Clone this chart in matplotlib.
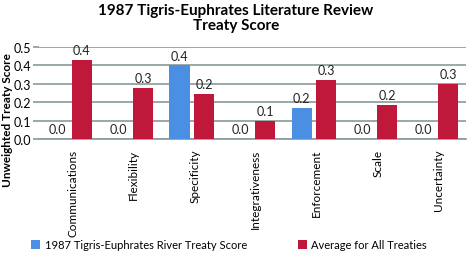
import matplotlib.pyplot as plt
import numpy as np

plt.rcParams['font.family'] = ['Lato', 'DejaVu Sans']

# data
categories = ["Communications", "Flexibility", "Specificity", "Integrativeness",
              "Enforcement", "Scale", "Uncertainty"]
river_scores = [0.0, 0.0, 0.40, 0.0, 0.17, 0.0, 0.0]
avg_scores = [0.43, 0.277, 0.245, 0.098, 0.32, 0.185, 0.30]
series_names = ["1987 Tigris-Euphrates River Treaty Score", "Average for All Treaties"]
y_ticks = [0.0, 0.1, 0.2, 0.3, 0.4, 0.5]

blue = "#4a8fe3"
red = "#c0183b"
grid_col = "#8a9a9a"

fig = plt.figure(figsize=(4.72, 2.55), dpi=100)
ax = fig.add_axes([0.083, 0.451, 0.905, 0.361])

x = np.arange(len(categories))
w = 0.33
off = 0.2
b1 = ax.bar(x - off, river_scores, width=w, color=blue, zorder=3, label=series_names[0])
b2 = ax.bar(x + off, avg_scores, width=w, color=red, zorder=3, label=series_names[1])

for bars, vals in [(b1, river_scores), (b2, avg_scores)]:
    for rect, v in zip(bars, vals):
        ax.text(rect.get_x() + rect.get_width() / 2, v + 0.02, f"{v:.1f}",
                ha="center", va="bottom", fontsize=9, color="#222222", zorder=4)

ax.set_xlim(-0.5, len(categories) - 0.5)
ax.set_ylim(0, 0.5)
ax.set_yticks(y_ticks)
ax.set_yticklabels([f"{t:.1f}" for t in y_ticks], fontsize=9)
ax.yaxis.grid(True, color=grid_col, linewidth=1.2, zorder=0)
ax.tick_params(axis="y", length=4, color=grid_col, width=1.2, pad=2)
ax.set_xticks(x + 0.05)
ax.set_xticklabels(categories, rotation=90, fontsize=8.5)
ax.tick_params(axis="x", length=0, pad=7)
for s in ["top", "right", "left"]:
    ax.spines[s].set_visible(False)
ax.spines["bottom"].set_color(grid_col)
ax.spines["bottom"].set_linewidth(1.2)

fig.text(0.004, 0.53, "Unweighted Treaty Score", rotation=90, ha="left", va="center",
         fontsize=8.5, fontweight="bold")
fig.text(0.5, 0.985, "1987 Tigris-Euphrates Literature Review\nTreaty Score",
         ha="center", va="top", fontsize=11, fontweight="bold", linespacing=1.15)

fig.legend(handles=[b1, b2], loc="lower left", bbox_to_anchor=(0.045, -0.025), ncol=2,
           frameon=False, fontsize=8, handlelength=0.8, handleheight=0.8,
           handletextpad=0.4, columnspacing=4.6)

fig.savefig("out.png", dpi=100)
